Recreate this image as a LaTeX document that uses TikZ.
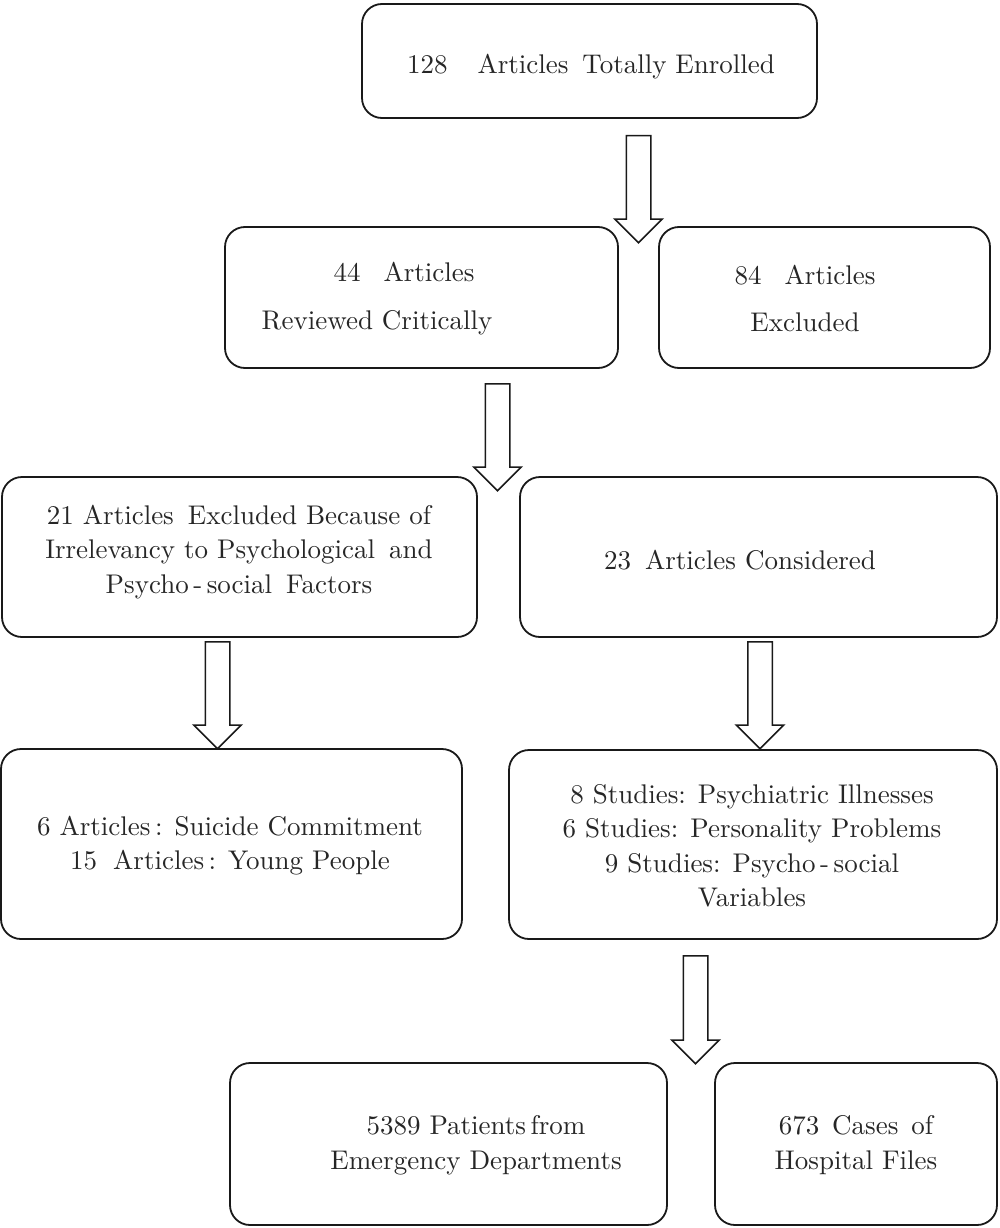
\documentclass[tikz,border=0pt]{standalone}
\usepackage{fontspec}
\setmainfont{lmroman10-regular.otf}
\usetikzlibrary{shapes.arrows}
\begin{document}
\begin{tikzpicture}[x=1pt,y=-1pt,
  box/.style={draw=black!90, line width=1.8pt, rounded corners=20pt, inner sep=0pt},
  txt/.style={align=center, inner sep=0pt, text=black!85,
    font=\fontsize{27}{34.5}\selectfont},
  barrow/.style={single arrow, draw=black!90, line width=1.5pt, rotate=-90,
    minimum width=46pt, single arrow head extend=11.5pt, anchor=tail,
    inner xsep=0pt, inner ysep=11.5pt, fill=white}]
\useasboundingbox (0,0) rectangle (1000,1228);
% boxes
\node[box, minimum width=455pt, minimum height=114pt] (b1) at (589.5,61) {};
\node[box, minimum width=393pt, minimum height=141pt] (b2) at (421.5,297.5) {};
\node[box, minimum width=331pt, minimum height=141pt] (b3) at (824.5,297.5) {};
\node[box, minimum width=475pt, minimum height=160pt] (b4) at (239.5,557) {};
\node[box, minimum width=477pt, minimum height=160pt] (b5) at (758.5,557) {};
\node[box, minimum width=461pt, minimum height=190pt] (b6) at (231.5,844) {};
\node[box, minimum width=488pt, minimum height=189pt] (b7) at (753,844.5) {};
\node[box, minimum width=437pt, minimum height=162pt] (b8) at (448.5,1144) {};
\node[box, minimum width=282pt, minimum height=162pt] (b9) at (856,1144) {};
% texts
\node[txt] (t1) at (591,67) {128\hspace{30pt}Articles\hspace{5pt} Totally Enrolled};
\node[txt] (t2) at (377,298.5) {\hspace*{54pt}44\hspace{14pt} Articles\\[13pt]Reviewed Critically};
\node[txt] (t3) at (805,298.5) {84\hspace{14pt} Articles\\[13pt]Excluded};
\node[txt] (t4) at (239,552) {21 Articles\hspace{5pt} Excluded Because of\\Irrelevancy to Psychological\hspace{5pt} and\\Psycho\,-\,social\hspace{5pt} Factors};
\node[txt] (t5) at (740,560) {23\hspace{5pt} Articles Considered};
\node[txt] (t6) at (230,845.5) {6 Articles\,: Suicide Commitment\\15\hspace{7pt} Articles\,: Young People};
\node[txt] (t7) at (752,846) {8 Studies: Psychiatric Illnesses\\6 Studies: Personality Problems\\9 Studies: Psycho\,-\,social\\Variables};
\node[txt] (t8) at (476,1145) {5389 Patients\,from\\Emergency Departments};
\node[txt] (t9) at (856,1145) {673\hspace{4pt} Cases\hspace{4pt} of\\Hospital Files};
% block arrows
\node[barrow, minimum height=107pt] (a1) at (638.5,135) {};
\node[barrow, minimum height=107pt] (a2) at (497.5,383) {};
\node[barrow, minimum height=107pt] (a3) at (217.5,641) {};
\node[barrow, minimum height=107pt] (a4) at (760,641) {};
\node[barrow, minimum height=108pt] (a5) at (695.5,955) {};
\end{tikzpicture}
\end{document}
